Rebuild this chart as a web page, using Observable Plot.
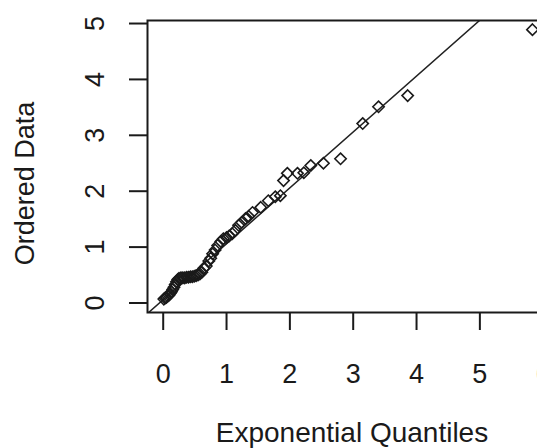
<!DOCTYPE html>
<html>
<head>
<meta charset="utf-8">
<script src="https://cdn.jsdelivr.net/npm/d3@7"></script>
<script src="https://cdn.jsdelivr.net/npm/@observablehq/plot@0.6"></script>
<style>
  html, body { margin: 0; padding: 0; background: #fff; overflow: hidden; width: 537px; height: 448px; }
  #chart { width: 560px; }
  #chart svg { display: block; max-width: none !important; width: 560px; height: 448px; }
</style>
</head>
<body>
<div id="chart"></div>
<script>
// Exponential quantiles (x) and ordered data (y)
const quantiles = [0.01,0.03,0.05,0.07,0.09,0.11,0.13,0.15,0.17,0.19,0.21,0.23,0.25,0.28,0.31,0.34,0.37,0.40,0.43,0.46,0.49,0.52,0.55,0.58,0.61,0.64,0.68,0.72,0.75,0.78,0.82,0.86,0.91,0.95,1.00,1.04,1.09,1.14,1.19,1.24,1.30,1.35,1.41,1.54,1.66,1.77,1.85,1.90,1.96,2.12,2.22,2.33,2.53,2.80,3.15,3.40,3.86,5.83];
const ordered   = [0.07,0.09,0.10,0.12,0.14,0.17,0.20,0.24,0.28,0.33,0.38,0.42,0.44,0.45,0.45,0.45,0.46,0.46,0.47,0.47,0.48,0.49,0.50,0.52,0.55,0.62,0.66,0.75,0.80,0.88,0.95,1.03,1.10,1.15,1.17,1.20,1.24,1.30,1.39,1.44,1.51,1.55,1.62,1.71,1.83,1.90,1.92,2.19,2.32,2.32,2.33,2.46,2.50,2.58,3.21,3.51,3.71,4.89];
const lineIntercept = 0.06;
const lineSlope = 1.0;
const xTicks = [0,1,2,3,4,5,6];
const yTicks = [0,1,2,3,4,5];
const xLabel = "Exponential Quantiles";
const yLabel = "Ordered Data";

const points = quantiles.map((q, i) => ({x: q, y: ordered[i]}));
const xDomain = [-0.248, 6.21];
const yDomain = [-0.17, 5.054];
const refLine = xDomain.map(x => ({x, y: lineIntercept + lineSlope * x}));

const font = "'Liberation Sans', Arial, Helvetica, sans-serif";
const ink = "#1a1a1a";

const chart = Plot.plot({
  width: 560,
  height: 448,
  marginLeft: 147,
  marginRight: 4,
  marginTop: 20,
  marginBottom: 136,
  style: {fontFamily: font, background: "#fff", overflow: "visible", maxWidth: "none"},
  x: {domain: xDomain, axis: null},
  y: {domain: yDomain, axis: null},
  marks: [
    Plot.line(refLine, {x: "x", y: "y", stroke: "#222", strokeWidth: 1.5, clip: true}),
    Plot.dot(points, {x: "x", y: "y", symbol: "diamond2", r: 5.1, stroke: ink, strokeWidth: 1.6, fill: "none"}),
    Plot.frame({stroke: ink, strokeWidth: 2}),
    Plot.axisX({ticks: xTicks, tickSize: 18, tickFormat: () => "", label: null, stroke: ink, strokeWidth: 2}),
    Plot.axisY({ticks: yTicks, tickSize: 18, tickFormat: () => "", label: null, stroke: ink, strokeWidth: 2}),
    Plot.text(xTicks, {x: d => d, text: d => String(d), frameAnchor: "bottom", textAnchor: "middle", lineAnchor: "top", dy: 51, fontSize: 27, fill: ink}),
    Plot.text(yTicks, {y: d => d, text: d => String(d), frameAnchor: "left", textAnchor: "middle", dx: -52, rotate: -90, fontSize: 27, fill: ink}),
    Plot.text([xLabel], {text: d => d, frameAnchor: "bottom", textAnchor: "middle", lineAnchor: "top", dy: 110, fontSize: 28, fill: ink, style: "letter-spacing:0.6px"}),
    Plot.text([yLabel], {text: d => d, frameAnchor: "left", textAnchor: "middle", dx: -122, dy: 17, rotate: -90, fontSize: 27, fill: ink})
  ]
});
document.getElementById("chart").appendChild(chart);
</script>
</body>
</html>
